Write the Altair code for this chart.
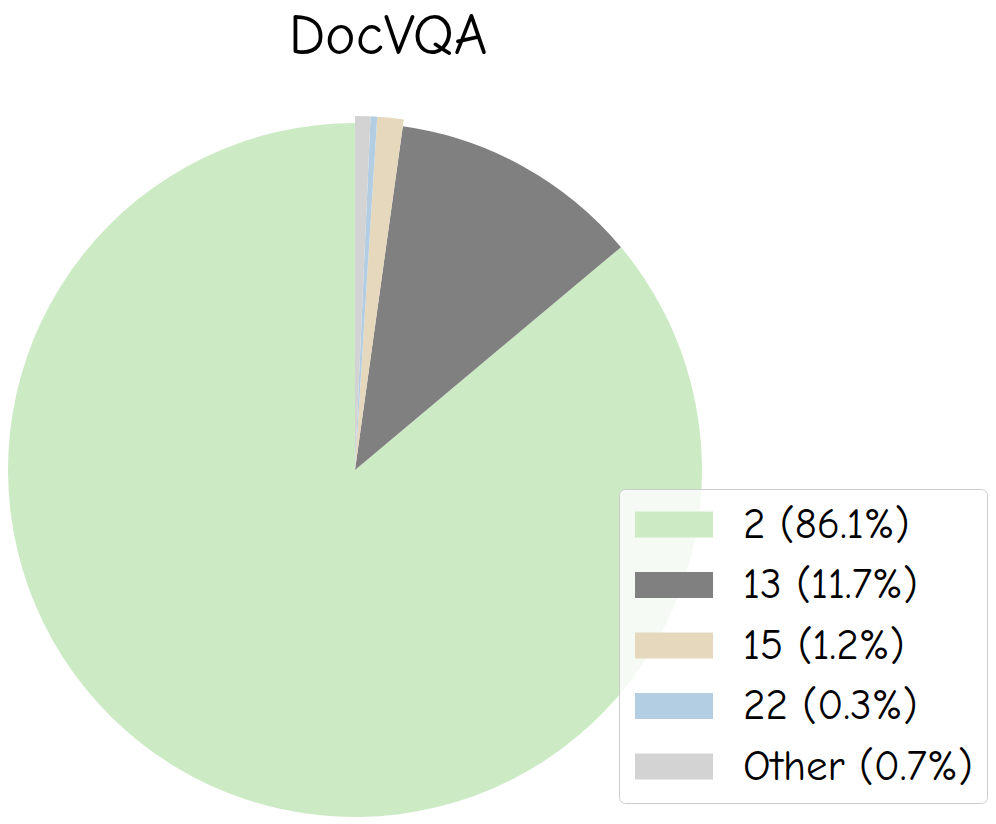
import altair as alt
import pandas as pd

# ---- data ----
categories = ["2", "13", "15", "22", "Other"]
percents = [86.1, 11.7, 1.2, 0.3, 0.7]
colors = ["#ccebc5", "#808080", "#e5d8bd", "#b3cde3", "#d3d3d3"]

legend_labels = [f"{c} ({p}%)" for c, p in zip(categories, percents)]
df = pd.DataFrame({
    "idx": list(range(len(categories))),
    "label": legend_labels,
    "pct": percents,
})

FONT = "Comic Sans MS, Comic Neue, DejaVu Sans"

color_enc = alt.Color(
    "label:N",
    sort=legend_labels,
    scale=alt.Scale(domain=legend_labels, range=colors),
    legend=alt.Legend(
        title=None,
        orient="none",
        legendX=611,
        legendY=366,
        symbolType="M-1,-0.667H3V0.667H-1Z",
        symbolSize=1521,
        symbolStrokeWidth=0,
        symbolOpacity=1,
        labelFont=FONT,
        labelFontSize=43,
        labelColor="black",
        labelOffset=67,
        labelLimit=500,
        rowPadding=16.5,
        padding=14,
        fillColor="rgba(255,255,255,0.8)",
        strokeColor="#cccccc",
        cornerRadius=6,
    ),
)

base = alt.Chart(df).transform_stack(
    stack="pct",
    as_=["p0", "p1"],
    groupby=[],
    sort=[alt.SortField("idx", order="descending")],
)

theta_enc = alt.Theta("p0:Q", scale=alt.Scale(domain=[0, 100], range=[0, 6.283185307179586]))

big = base.transform_filter("datum.pct >= 2").mark_arc(stroke=None, radius=347).encode(
    theta=theta_enc, theta2="p1:Q", color=color_enc
)
small = base.transform_filter("datum.pct < 2").mark_arc(stroke=None, radius=354).encode(
    theta=theta_enc, theta2="p1:Q", color=color_enc
)

pie = alt.layer(big, small).properties(
    width=694,
    height=694,
    title=alt.TitleParams(
        "DocVQA",
        font=FONT,
        fontSize=58,
        fontWeight="normal",
        color="black",
        anchor="middle",
        dx=33,
        offset=50,
    ),
    padding={"top": 115, "left": 0, "right": 286, "bottom": 0},
    autosize=alt.AutoSizeParams(type="none"),
).configure_view(stroke=None)

pie.save("out.html", embed_options={"renderer": "svg", "actions": False})
